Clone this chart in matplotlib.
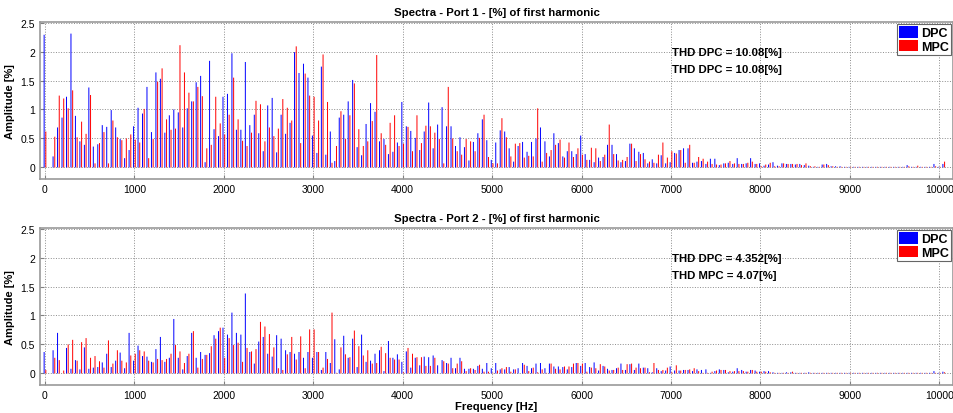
import numpy as np
import matplotlib
matplotlib.use("Agg")
import matplotlib.pyplot as plt
from matplotlib.patches import Patch

plt.rcParams['font.family'] = ['Liberation Sans', 'DejaVu Sans']

# harmonic frequencies, 50 Hz step from 0 to 10050 Hz
freq = np.arange(0, 10051, 50)

# Port 1 amplitudes [% of first harmonic]
p1_dpc = [
    2.29, 0, 0.19, 0.69, 0.86, 1.22, 2.31, 0.89, 0.45, 0.39,
    1.38, 0.36, 0.40, 0.73, 0.70, 0.99, 0.69, 0.49, 0.16, 0.30,
    0.71, 1.03, 0.93, 1.39, 0.61, 1.64, 1.53, 0.60, 0.90, 1.00,
    0.95, 0.69, 1.02, 1.14, 1.47, 1.58, 0.09, 1.84, 0.66, 0.54,
    1.22, 1.27, 1.97, 0.65, 0.65, 1.82, 0.73, 0.91, 0.59, 0.28,
    1.07, 1.20, 0.26, 0.91, 0.58, 0.77, 1.99, 1.63, 1.79, 1.55,
    0.55, 0.25, 1.74, 0.22, 0.62, 0.11, 0.86, 0.91, 1.14, 1.51,
    0.35, 0.21, 0.75, 1.11, 0.96, 0.45, 0.49, 0.23, 0.27, 0.43,
    1.13, 0.71, 0.63, 0.51, 0.30, 0.62, 1.12, 0.33, 0.74, 1.04,
    0.71, 0.71, 0.37, 0.52, 0.35, 0.12, 0.44, 0.59, 0.83, 0.47,
    0.13, 0.43, 0.64, 0.62, 0.33, 0.10, 0.37, 0.44, 0.27, 0.44,
    0.50, 0.69, 0.45, 0.19, 0.59, 0.42, 0.19, 0.28, 0.28, 0.23,
    0.55, 0.23, 0.13, 0.09, 0.17, 0.18, 0.39, 0.39, 0.23, 0.09,
    0.11, 0.41, 0.33, 0.27, 0.25, 0.07, 0.14, 0.07, 0.21, 0.07,
    0.09, 0.25, 0.30, 0.33, 0.33, 0.08, 0.10, 0.11, 0.06, 0.15,
    0.15, 0.04, 0.07, 0.08, 0.06, 0.16, 0.06, 0.07, 0.16, 0.06,
    0.07, 0.03, 0.05, 0.09, 0.03, 0.07, 0.06, 0.06, 0.05, 0.06,
    0.04, 0.03, 0.01, 0.01, 0.05, 0.06, 0.02, 0.02, 0.02, 0.01,
    0.01, 0.01, 0.01, 0.01, 0.01, 0.01, 0.01, 0.01, 0.01, 0.01,
    0.01, 0.01, 0.01, 0.04, 0.01, 0.01, 0.01, 0.01, 0.01, 0.06,
    0.01, 0.06,
]
p1_mpc = [
    0.62, 0, 0.53, 1.24, 1.19, 1.02, 1.33, 0.52, 0.79, 0.58,
    1.25, 0.07, 0.42, 0.61, 0.07, 0.81, 0.52, 0.47, 0.50, 0.57,
    0.48, 0.43, 1.01, 0.16, 0.49, 1.48, 1.71, 0.83, 0.65, 0.67,
    2.11, 1.64, 1.29, 1.14, 1.39, 1.23, 0.33, 0.39, 1.22, 0.76,
    0.57, 0.91, 1.55, 0.83, 0.46, 0.37, 0.60, 1.15, 1.09, 0.45,
    0.69, 0.54, 0.67, 1.18, 1.03, 0.81, 2.09, 0.42, 1.62, 1.24,
    1.22, 0.81, 1.95, 1.13, 0.08, 0.37, 0.97, 0.49, 0.90, 1.45,
    0.66, 0.37, 0.45, 0.80, 1.94, 0.59, 0.39, 0.77, 0.90, 0.37,
    0.41, 0.70, 0.28, 0.90, 0.42, 0.72, 0.71, 0.60, 0.49, 0.07,
    1.39, 0.50, 0.28, 0.22, 0.49, 0.45, 0.28, 0.51, 0.91, 0.18,
    0.07, 0.07, 0.85, 0.52, 0.19, 0.41, 0.42, 0.17, 0.20, 0.19,
    1.02, 0.10, 0.25, 0.30, 0.39, 0.48, 0.17, 0.43, 0.18, 0.33,
    0.22, 0.13, 0.34, 0.33, 0.11, 0.22, 0.74, 0.23, 0.12, 0.13,
    0.18, 0.41, 0.11, 0.23, 0.14, 0.10, 0.08, 0.22, 0.43, 0.17,
    0.28, 0.24, 0.30, 0.08, 0.39, 0.08, 0.18, 0.15, 0.10, 0.06,
    0.05, 0.05, 0.07, 0.11, 0.07, 0.06, 0.06, 0.08, 0.10, 0.06,
    0.02, 0.05, 0.08, 0.02, 0.02, 0.07, 0.06, 0.06, 0.06, 0.04,
    0.07, 0.02, 0.02, 0.01, 0.05, 0.04, 0.02, 0.01, 0.01, 0.01,
    0.01, 0.01, 0.01, 0.01, 0.01, 0.01, 0.01, 0.01, 0.01, 0.01,
    0.01, 0.01, 0.01, 0.02, 0.01, 0.03, 0.01, 0.01, 0.01, 0.02,
    0.01, 0.10,
]

# Port 2 amplitudes [% of first harmonic]
p2_dpc = [
    0.37, 0, 0.40, 0.70, 0.00, 0.44, 0.08, 0.23, 0.07, 0.45,
    0.08, 0.10, 0.11, 0.19, 0.34, 0.11, 0.22, 0.36, 0.09, 0.70,
    0.22, 0.48, 0.30, 0.29, 0.20, 0.42, 0.63, 0.20, 0.27, 0.94,
    0.27, 0.07, 0.30, 0.70, 0.27, 0.37, 0.32, 0.35, 0.66, 0.73,
    0.79, 0.67, 1.05, 0.70, 0.67, 1.38, 0.37, 0.17, 0.55, 0.63,
    0.34, 0.29, 0.66, 0.60, 0.40, 0.37, 0.34, 0.37, 0.27, 0.37,
    0.27, 0.37, 0.06, 0.37, 0.18, 0.59, 0.07, 0.65, 0.27, 0.60,
    0.11, 0.67, 0.20, 0.22, 0.34, 0.40, 0.04, 0.56, 0.27, 0.33,
    0.20, 0.38, 0.10, 0.27, 0.14, 0.29, 0.28, 0.31, 0.14, 0.23,
    0.18, 0.27, 0.09, 0.27, 0.08, 0.08, 0.08, 0.13, 0.08, 0.18,
    0.09, 0.18, 0.07, 0.07, 0.11, 0.07, 0.09, 0.18, 0.13, 0.09,
    0.17, 0.18, 0.09, 0.17, 0.12, 0.12, 0.11, 0.07, 0.11, 0.18,
    0.13, 0.18, 0.11, 0.19, 0.05, 0.13, 0.08, 0.06, 0.09, 0.17,
    0.06, 0.16, 0.06, 0.17, 0.10, 0.09, 0.02, 0.09, 0.04, 0.05,
    0.12, 0.05, 0.05, 0.06, 0.06, 0.04, 0.07, 0.06, 0.07, 0.01,
    0.04, 0.07, 0.06, 0.02, 0.03, 0.09, 0.06, 0.03, 0.06, 0.05,
    0.03, 0.04, 0.04, 0.02, 0.01, 0.01, 0.02, 0.02, 0.01, 0.01,
    0.01, 0.02, 0.01, 0.01, 0.01, 0.01, 0.01, 0.01, 0.01, 0.01,
    0.01, 0.01, 0.01, 0.01, 0.01, 0.01, 0.01, 0.01, 0.01, 0.01,
    0.01, 0.01, 0.01, 0.01, 0.01, 0.01, 0.01, 0.01, 0.01, 0.04,
    0.01, 0.03,
]
p2_mpc = [
    0.06, 0, 0.27, 0.23, 0.05, 0.50, 0.58, 0.22, 0.54, 0.61,
    0.27, 0.30, 0.21, 0.10, 0.57, 0.17, 0.40, 0.22, 0.19, 0.31,
    0.34, 0.40, 0.38, 0.22, 0.19, 0.25, 0.23, 0.25, 0.34, 0.49,
    0.38, 0.18, 0.34, 0.73, 0.10, 0.25, 0.32, 0.47, 0.60, 0.79,
    0.27, 0.61, 0.49, 0.53, 0.20, 0.44, 0.38, 0.42, 0.89, 0.81,
    0.68, 0.45, 0.09, 0.06, 0.33, 0.63, 0.24, 0.64, 0.09, 0.76,
    0.76, 0.37, 0.10, 0.25, 1.05, 0.01, 0.45, 0.33, 0.28, 0.74,
    0.47, 0.31, 0.40, 0.17, 0.18, 0.46, 0.35, 0.27, 0.24, 0.24,
    0.02, 0.44, 0.34, 0.28, 0.28, 0.13, 0.13, 0.27, 0.00, 0.21,
    0.17, 0.09, 0.17, 0.21, 0.04, 0.09, 0.06, 0.15, 0.03, 0.03,
    0.01, 0.05, 0.09, 0.11, 0.03, 0.07, 0.00, 0.15, 0.04, 0.10,
    0.02, 0.07, 0.01, 0.17, 0.08, 0.07, 0.12, 0.12, 0.17, 0.18,
    0.17, 0.03, 0.10, 0.09, 0.16, 0.12, 0.05, 0.06, 0.10, 0.06,
    0.16, 0.17, 0.10, 0.09, 0.10, 0.02, 0.18, 0.06, 0.06, 0.10,
    0.02, 0.14, 0.05, 0.06, 0.07, 0.09, 0.04, 0.01, 0.01, 0.03,
    0.05, 0.06, 0.06, 0.04, 0.04, 0.04, 0.04, 0.03, 0.06, 0.03,
    0.03, 0.03, 0.02, 0.01, 0.01, 0.01, 0.01, 0.03, 0.01, 0.01,
    0.01, 0.01, 0.01, 0.01, 0.01, 0.01, 0.01, 0.01, 0.01, 0.01,
    0.01, 0.01, 0.01, 0.01, 0.01, 0.01, 0.01, 0.01, 0.01, 0.01,
    0.01, 0.01, 0.01, 0.01, 0.01, 0.01, 0.01, 0.01, 0.01, 0.01,
    0.01, 0.02,
]

titles = ["Spectra - Port 1 - [%] of first harmonic",
          "Spectra - Port 2 - [%] of first harmonic"]
thd_texts = [["THD DPC = 10.08[%]", "THD DPC = 10.08[%]"],
             ["THD DPC = 4.352[%]", "THD MPC = 4.07[%]"]]
series = [(p1_dpc, p1_mpc), (p2_dpc, p2_mpc)]

fig = plt.figure(figsize=(9.54, 4.14), dpi=100)
ax_rects = [[0.0419, 0.5652, 0.957, 0.3792],
            [0.0419, 0.0676, 0.957, 0.3792]]

for k in range(2):
    ax = fig.add_axes(ax_rects[k])
    dpc, mpc = series[k]
    b1 = ax.bar(freq - 9.5, dpc, width=11, color=(0, 0, 1), linewidth=0, zorder=3)
    b2 = ax.bar(freq + 9.5, mpc, width=11, color=(1, 0, 0), linewidth=0, zorder=3)
    for r in list(b1) + list(b2):
        r.set_snap(False)
    ax.set_xlim(-56, 10153)
    ax.set_ylim(-0.2, 2.51)
    ax.set_xticks(np.arange(0, 10001, 1000))
    ax.set_yticks([0, 0.5, 1, 1.5, 2, 2.5])
    ax.set_yticklabels(['0', '0.5', '1', '1.5', '2', '2.5'])
    ax.tick_params(direction='in', labelsize=7.5, length=3, color='0.5')
    ax.grid(True, linestyle=':', color='0.55', linewidth=0.7, zorder=0)
    for s in ax.spines.values():
        s.set_color('0.6')
        s.set_linewidth(1.2)
    ax.set_title(titles[k], fontsize=8.2, fontweight='bold', pad=5)
    ax.set_ylabel("Amplitude [%]", fontsize=8, fontweight='bold', labelpad=4)
    ax.text(0.692, 0.81, thd_texts[k][0], transform=ax.transAxes,
            fontsize=8.2, fontweight='bold', va='center')
    ax.text(0.692, 0.70, thd_texts[k][1], transform=ax.transAxes,
            fontsize=8.2, fontweight='bold', va='center')
    handles = [Patch(facecolor=(0, 0, 1), edgecolor='none', label='DPC'),
               Patch(facecolor=(1, 0, 0), edgecolor='none', label='MPC')]
    leg = ax.legend(handles=handles, loc='upper right',
                    prop={'weight': 'bold', 'size': 9}, fancybox=False,
                    borderaxespad=0.15, handlelength=1.5, handleheight=1.0,
                    handletextpad=0.2, labelspacing=0.05, borderpad=0.2,
                    framealpha=1)
    leg.get_frame().set_edgecolor('0.4')
    leg.get_frame().set_linewidth(0.8)
    if k == 1:
        ax.set_xlabel("Frequency [Hz]", fontsize=8.2, fontweight='bold', labelpad=1)

fig.savefig("out.png", dpi=100)
